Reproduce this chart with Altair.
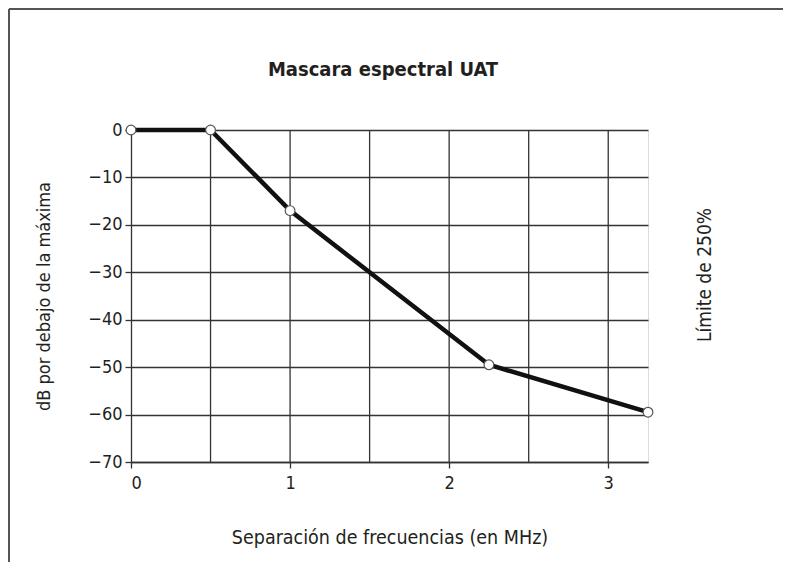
import altair as alt
import pandas as pd

# Data
freq_mhz = [0, 0.5, 1, 2.25, 3.25]
db_below = [0, 0, -17, -49.5, -59.5]
x_ticks = [0, 1, 2, 3]
x_grid = [0.5, 1, 1.5, 2, 2.5, 3]
y_ticks = [0, -10, -20, -30, -40, -50, -60, -70]

title_text = "Mascara espectral UAT"
x_title = "Separación de frecuencias (en MHz)"
y_title = "dB por debajo de la máxima"
right_label = "Límite de 250%"

FONT = "Liberation Sans Narrow, Arial Narrow, DejaVu Sans Condensed, sans-serif"
INK = "#231f20"
GRID = "#333333"
W, H = 517, 332

df = pd.DataFrame({"f": freq_mhz, "db": db_below})
grid_df = pd.DataFrame({"g": x_grid})
lab_df = pd.DataFrame({"t": [right_label]})
title_df = pd.DataFrame({"t": [title_text]})

xs = alt.Scale(domain=[0, 3.25], nice=False, zero=False)
ys = alt.Scale(domain=[-70, 0], nice=False, zero=False)

xaxis = alt.Axis(values=x_ticks, grid=False, tickSize=6, tickColor=GRID, tickWidth=1.3,
                 labelPadding=6, labelFontSize=18, titleFontSize=19.5, titlePadding=36,
                 labelFont=FONT, titleFont=FONT, labelColor=INK, titleColor=INK,
                 titleFontWeight="normal", domainColor=GRID, domainWidth=1.3, format="d")
yaxis = alt.Axis(values=y_ticks, grid=True, gridColor=GRID, gridWidth=1.3, gridOpacity=1,
                 tickSize=6, tickColor=GRID, tickWidth=1.3, labelPadding=3,
                 labelFontSize=18, titleFontSize=18, titlePadding=34,
                 labelFont=FONT, titleFont=FONT, labelColor=INK, titleColor=INK,
                 titleFontWeight="normal", domainColor=GRID, domainWidth=1.3, format="d")

base = alt.Chart(df)

grid = alt.Chart(grid_df).mark_rule(color=GRID, strokeWidth=1.3).encode(
    x=alt.X("g:Q", scale=xs, axis=xaxis, title=x_title)
)

line = base.mark_line(color="#111111", strokeWidth=4.5).encode(
    x=alt.X("f:Q", scale=xs, axis=xaxis, title=x_title),
    y=alt.Y("db:Q", scale=ys, axis=yaxis, title=y_title),
)

points = base.mark_point(filled=True, fill="white", stroke="#555555", strokeWidth=1.2,
                         size=95, opacity=1, shape="circle").encode(
    x=alt.X("f:Q", scale=xs),
    y=alt.Y("db:Q", scale=ys),
)

rlabel = alt.Chart(lab_df).mark_text(angle=270, font=FONT, fontSize=19, color=INK,
                                     align="center", baseline="middle").encode(
    text="t:N", x=alt.value(574), y=alt.value(145)
)

title = alt.Chart(title_df).mark_text(font=FONT, fontSize=20, fontWeight="bold", color=INK,
                                      align="center", baseline="middle").encode(
    text="t:N", x=alt.value(252), y=alt.value(-60)
)

frame_left = alt.Chart(lab_df).mark_rule(color="#555555", strokeWidth=2).encode(
    x=alt.value(-122), y=alt.value(-121), y2=alt.value(H + 100)
)
frame_top = alt.Chart(lab_df).mark_rule(color="#555555", strokeWidth=2).encode(
    x=alt.value(-122), x2=alt.value(W + 135), y=alt.value(-121)
)

chart = alt.layer(grid, line, points, rlabel, title, frame_left, frame_top).properties(
    width=W, height=H,
    padding={"left": 123, "top": 122, "right": 135, "bottom": 100},
    autosize=alt.AutoSizeParams(type="none"),
).configure_view(stroke=GRID, strokeWidth=1.3).configure(background="white")

chart.save("out.html", embed_options={"renderer": "svg", "actions": False})
